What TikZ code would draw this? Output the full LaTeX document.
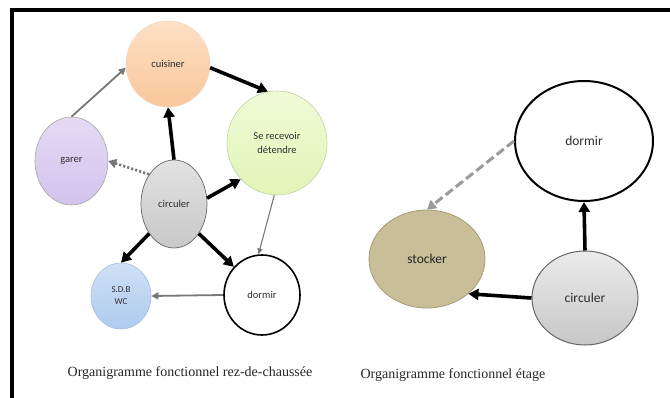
\documentclass[tikz,border=0pt]{standalone}
\usepackage{fontspec}
\setmainfont{Liberation Serif}
\newfontfamily\labfont{Carlito}
\usetikzlibrary{shapes.geometric,arrows.meta}
\definecolor{cuisA}{HTML}{FEE0C4}
\definecolor{cuisB}{HTML}{F9C79A}
\definecolor{recvA}{HTML}{F0FAD6}
\definecolor{recvB}{HTML}{E2F4B8}
\definecolor{garA}{HTML}{E4DAF5}
\definecolor{garB}{HTML}{D2C4EC}
\definecolor{sdbA}{HTML}{CFE0F5}
\definecolor{sdbB}{HTML}{AECBEE}
\definecolor{stockF}{HTML}{C8BE98}
\definecolor{stockD}{HTML}{A39A78}
\definecolor{circA}{HTML}{E2E2E2}
\definecolor{circB}{HTML}{C8C8C8}
\definecolor{labc}{HTML}{2E2E2E}
\definecolor{edgegray}{HTML}{777777}
\definecolor{dashgray}{HTML}{9A9A9A}
\tikzset{
  blob/.style={ellipse, inner sep=0pt, text=labc, font=\labfont\fontsize{10.5}{12.5}\selectfont, align=center},
  bigblob/.style={blob, font=\labfont\fontsize{13.5}{15}\selectfont},
  thickarrow/.style={line width=3.6pt, black, -{Triangle[length=10pt,width=11pt]}},
  grayarrow/.style={line width=1.8pt, edgegray, -{Triangle[length=7pt,width=7pt]}},
  thinarrow/.style={line width=1.1pt, edgegray, -{Triangle[length=6pt,width=5pt]}},
  dotarrow/.style={line width=2.6pt, edgegray, dash pattern=on 2.2pt off 2pt, -{Triangle[length=8pt,width=9pt]}},
  dasharrow/.style={line width=3pt, dashgray, dash pattern=on 9pt off 4pt, -{Triangle[length=9pt,width=10pt]}},
  caption/.style={font=\fontsize{14}{16}\selectfont, text=black!85}
}
\begin{document}
\begin{tikzpicture}[x=1pt,y=-1pt]
\useasboundingbox (0,0) rectangle (670,398);
\fill[white] (0,0) rectangle (670,398);
% frame
\draw[line width=3.5pt, black] (12,398) -- (12,10) -- (670,10);

% left diagram
\node[blob, minimum width=84pt, minimum height=86pt, top color=cuisA, bottom color=cuisB, draw=cuisB!80!black!40!white, line width=0.6pt] (cuis) at (168,64) {cuisiner};
\node[blob, minimum width=100pt, minimum height=104pt, top color=recvA, bottom color=recvB, draw=recvB!70!gray, line width=0.6pt] (recv) at (277,143) {Se recevoir\\[2pt]détendre};
\node[blob, minimum width=73pt, minimum height=88pt, top color=garA, bottom color=garB, draw=gray!70, line width=0.6pt] (garer) at (71.5,161) {garer};
\node[blob, minimum width=66pt, minimum height=88pt, top color=circA, bottom color=circB, draw=gray!80!black, line width=0.7pt] (circL) at (174,204) {circuler};
\node[blob, minimum width=60pt, minimum height=66pt, top color=sdbA, bottom color=sdbB, draw=sdbB!80!gray, line width=0.6pt, font=\labfont\fontsize{9}{12}\selectfont] (sdb) at (121,296) {S.D.B\\WC};
\node[blob, minimum width=76pt, minimum height=80pt, fill=white, draw=black, line width=1.6pt] (dormL) at (262,295) {dormir};

\draw[grayarrow] (garer.north) -- (cuis.185);
\draw[thickarrow] (cuis.-5) -- (recv.100);
\draw[thickarrow] (circL.north) -- (cuis.south);
\draw[dotarrow] (circL.130) -- (garer.east);
\draw[thickarrow] (circL.10) -- (recv.-135);
\draw[thickarrow] (circL.-130) -- (sdb.north);
\draw[thickarrow] (circL.-50) -- (dormL.135);
\draw[thinarrow] (recv.-93) -- (dormL.95);
\draw[grayarrow] (dormL.west) -- (sdb.east);

\node[caption] (capL) at (190,373) {Organigramme fonctionnel rez-de-chaussée};

% right diagram
\node[bigblob, minimum width=138pt, minimum height=120pt, fill=white, draw=black, line width=2pt] (dormR) at (584,141) {dormir};
\node[bigblob, minimum width=116pt, minimum height=98pt, fill=stockF, draw=stockD, line width=0.8pt, text=black!85] (stock) at (427,259) {stocker};
\node[bigblob, minimum width=106pt, minimum height=94pt, top color=white!92!black, bottom color=black!22, draw=black!60, line width=1pt] (circR) at (585,298) {circuler};

\draw[dasharrow] (dormR.west) -- (stock.north);
\draw[thickarrow] (circR.north) -- (dormR.south);
\draw[thickarrow] (circR.west) -- (stock.-40);

\node[caption] (capR) at (453,375) {Organigramme fonctionnel étage};
\end{tikzpicture}
\end{document}
